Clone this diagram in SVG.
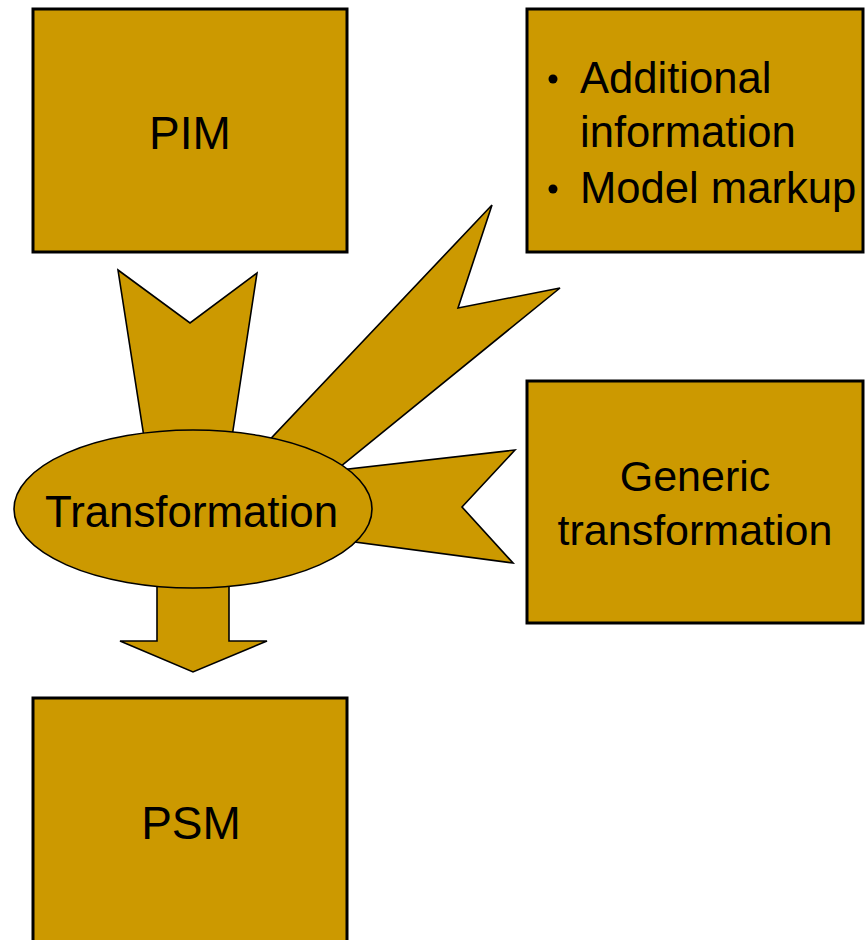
<svg xmlns="http://www.w3.org/2000/svg" width="868" height="940" viewBox="0 0 868 940">
<style>
.box{fill:#CC9900;stroke:#000;stroke-width:3}
.arrow{fill:#CC9900;stroke:#000;stroke-width:1.6;stroke-linejoin:miter}
.ell{fill:#CC9900;stroke:#000;stroke-width:1.6}
text{font-family:"Liberation Sans",Arial,sans-serif;fill:#000}
.big{font-size:46px}
.mid{font-size:43px}
.info{font-size:43.6px}
</style>
<rect width="868" height="940" fill="#fff"/>
<g id="connectors">
<polygon class="arrow" points="118,270 190,323 257,273 230,450 146,450"/>
<polygon class="arrow" points="492,205 458,308 560,288 330,475 260,450"/>
<polygon class="arrow" points="515,450 462,507 513,563 340,540 340,470"/>
<polygon class="arrow" points="157,570 229,570 229,641 267,641 193,672 120,641 157,641"/>
</g>
<g id="pim">
<rect class="box" x="33" y="9" width="314" height="243"/>
<text class="big" x="190" y="149" text-anchor="middle">PIM</text>
</g>
<g id="info">
<rect class="box" x="527" y="9" width="336" height="243"/>
<circle cx="553" cy="79" r="4.5" fill="#000"/>
<circle cx="553" cy="189" r="4.5" fill="#000"/>
<text class="info" x="580" y="93">Additional</text>
<text class="info" x="580" y="147">information</text>
<text class="info" x="580" y="203">Model markup</text>
</g>
<g id="generic">
<rect class="box" x="527" y="381" width="336" height="242"/>
<text class="mid" x="695" y="491" text-anchor="middle">Generic</text>
<text class="mid" x="695" y="545" text-anchor="middle">transformation</text>
</g>
<g id="transformation">
<ellipse class="ell" cx="193" cy="509" rx="179" ry="79"/>
<text x="45" y="527" font-size="44" textLength="293" lengthAdjust="spacingAndGlyphs">Transformation</text>
</g>
<g id="psm">
<rect class="box" x="33" y="698" width="314" height="260"/>
<text class="big" x="191" y="839" text-anchor="middle">PSM</text>
</g>
</svg>
